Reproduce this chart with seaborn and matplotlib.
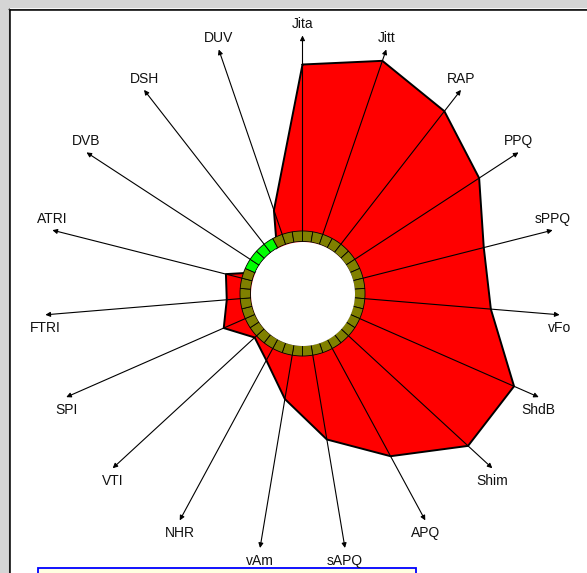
import numpy as np
import pandas as pd
import matplotlib
matplotlib.use("Agg")
import matplotlib.pyplot as plt
import seaborn as sns
from matplotlib.patches import Rectangle

# MDVP-style voice profile: one axis per parameter, clockwise from the top
params = ["Jita", "Jitt", "RAP", "PPQ", "sPPQ", "vFo", "ShdB", "Shim", "APQ", "sAPQ",
          "vAm", "NHR", "VTI", "SPI", "FTRI", "ATRI", "DVB", "DSH", "DUV"]
values = [229, 246, 231, 211, 187, 189, 231, 225, 185, 148,
          107, 76, 65, 86, 76, 79, 40, 40, 88]
# parameters inside the norm -> ring segments drawn green
green_params = ["DVB", "DSH"]

W, H = 587, 573
cx, cy = 302.5, 293.5      # centre of the chart in pixels
R = 300                    # 1 radial unit = 1 pixel
ring_in, ring_out = 52, 62.5
arrow_len = 258

sns.set_style("white")
plt.rcParams["font.family"] = ["Liberation Sans", "DejaVu Sans"]

fig = plt.figure(figsize=(W / 100, H / 100), dpi=100, facecolor="#d5d5d5")

# window frame
bg = fig.add_axes([0, 0, 1, 1])
bg.set_xlim(0, W)
bg.set_ylim(H, 0)
bg.axis("off")
bg.add_patch(Rectangle((9, 8), W, H, facecolor="white", edgecolor="none"))
bg.plot([8, W], [8.5, 8.5], color="#808080", lw=0.8)
bg.plot([8.5, 8.5], [8, H], color="#808080", lw=0.8)
bg.plot([10, W], [10, 10], color="black", lw=1.1)
bg.plot([10, 10], [10, H], color="black", lw=1.1)
bg.add_patch(Rectangle((37.5, 567.5), 378, 20, facecolor="#ffffe1", edgecolor="#0000ff", lw=1.3))

# polar chart
ax = fig.add_axes([(cx - R) / W, (H - cy - R) / H, 2 * R / W, 2 * R / H], projection="polar")
ax.set_theta_zero_location("N")
ax.set_theta_direction(-1)
ax.set_ylim(0, R)

n = len(params)
theta = np.arange(n) * 2 * np.pi / n
df = pd.DataFrame({"theta": np.append(theta, 2 * np.pi), "value": values + values[:1]})

ax.fill(df["theta"], df["value"], color="#ff0000", lw=0, zorder=1)
sns.lineplot(data=df, x="theta", y="value", sort=False, estimator=None,
             color="black", lw=1.4, ax=ax, zorder=2)

for name, t in zip(params, theta):
    ax.annotate("", xy=(t, arrow_len), xytext=(t, ring_in),
                arrowprops=dict(arrowstyle="-|>", color="black", lw=0.8,
                                mutation_scale=7, shrinkA=0, shrinkB=0), zorder=3)
    dy = 11 if np.cos(t) > 0 else -13
    ax.annotate(name, xy=(t, arrow_len), xytext=(0, dy), textcoords="offset pixels",
                ha="center", va="center", fontsize=10, color="#111111", zorder=5)

# threshold ring
seg = 2 * np.pi / (2 * n)
centers = (np.arange(2 * n) + 0.5) * seg
colors = ["#808000"] * (2 * n)
for p in green_params:
    i = params.index(p)
    colors[2 * i - 1] = "#00ff00"
    colors[2 * i] = "#00ff00"
ax.bar(centers, ring_out - ring_in, width=seg, bottom=ring_in, color=colors,
       edgecolor="black", linewidth=0.6, zorder=4)
ax.fill_between(np.linspace(0, 2 * np.pi, 200), 0, ring_in, color="white", lw=0, zorder=4)

ax.axis("off")
fig.savefig("out.png", dpi=100, facecolor=fig.get_facecolor())
